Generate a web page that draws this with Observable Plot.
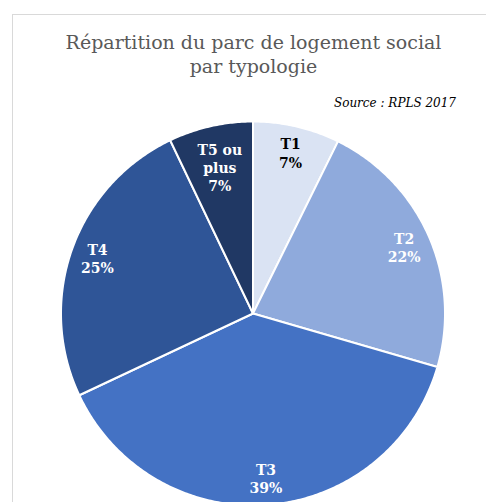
<!DOCTYPE html>
<html>
<head>
<meta charset="utf-8">
<script src="https://cdn.jsdelivr.net/npm/d3@7"></script>
<script src="https://cdn.jsdelivr.net/npm/@observablehq/plot@0.6"></script>
<style>
  html, body { margin: 0; padding: 0; background: #fff; width: 486px; height: 502px; overflow: hidden; }
  #wrap { position: relative; width: 486px; height: 502px; }
  #frame { position: absolute; left: 12px; top: 14px; width: 500px; height: 520px;
           border-left: 1.5px solid #d9d9d9; border-top: 1.5px solid #d9d9d9; }
  #chart { position: absolute; left: 0; top: 0; }
  #title { position: absolute; left: 0; top: 30px; width: 507px; text-align: center;
           font-family: "DejaVu Serif", serif; font-size: 19px; line-height: 24px; color: #595959; }
  #source { position: absolute; right: 30px; top: 96px; font-family: "DejaVu Serif", serif;
            font-style: italic; font-size: 12px; color: #000; }
</style>
</head>
<body>
<div id="wrap">
  <div id="frame"></div>
  <div id="chart"></div>
  <div id="title">Répartition du parc de logement social<br>par typologie</div>
  <div id="source">Source : RPLS 2017</div>
</div>
<script>
// ---- data ----
const categories = ["T1", "T2", "T3", "T4", "T5 ou plus"];
const shares = [7.3, 22.2, 38.5, 24.9, 7.1];          // % of social housing stock
const labels = ["T1\n7%", "T2\n22%", "T3\n39%", "T4\n25%", "T5 ou\nplus\n7%"];
const colors = ["#dae3f3", "#8faadc", "#4472c4", "#2f5597", "#203864"];
const labelColors = ["#000000", "#ffffff", "#ffffff", "#ffffff", "#ffffff"];

// ---- layout (pixels) ----
const W = 486, H = 502;
const cx = 252.5, cy = 313, R = 192;

// pie geometry in unit-circle data space
const pie = d3.pie().sort(null).value(d => d.share)(
  categories.map((c, i) => ({cat: c, share: shares[i], label: labels[i], lc: labelColors[i]}))
);
const polys = [];
for (const a of pie) {
  polys.push({cat: a.data.cat, x: 0, y: 0});
  const n = Math.max(2, Math.ceil((a.endAngle - a.startAngle) / 0.01));
  for (let k = 0; k <= n; k++) {
    const t = a.startAngle + (a.endAngle - a.startAngle) * k / n;
    polys.push({cat: a.data.cat, x: Math.sin(t), y: Math.cos(t)});
  }
}
const labelR = c => c === "T5 ou plus" ? 0.78 : 0.86;
const labs = pie.map(a => {
  const m = (a.startAngle + a.endAngle) / 2, r = labelR(a.data.cat);
  return {cat: a.data.cat, label: a.data.label, lc: a.data.lc, x: r * Math.sin(m), y: r * Math.cos(m)};
});

const chart = Plot.plot({
  width: W, height: H, margin: 0,
  style: {background: "transparent", overflow: "visible"},
  x: {domain: [-cx / R, (W - cx) / R], axis: null},
  y: {domain: [(cy - H) / R, cy / R], axis: null},
  color: {domain: categories, range: colors},
  marks: [
    Plot.line(polys, {x: "x", y: "y", z: "cat", fill: "cat", stroke: "white", strokeWidth: 2,
                      curve: "linear-closed", strokeLinejoin: "round"}),
    Plot.text(labs, {x: "x", y: "y", text: "label", fill: "lc",
                     fontFamily: "DejaVu Serif", fontWeight: "bold", fontSize: 14,
                     lineHeight: 1.3, lineAnchor: "middle"})
  ]
});
document.getElementById("chart").appendChild(chart);
</script>
</body>
</html>
